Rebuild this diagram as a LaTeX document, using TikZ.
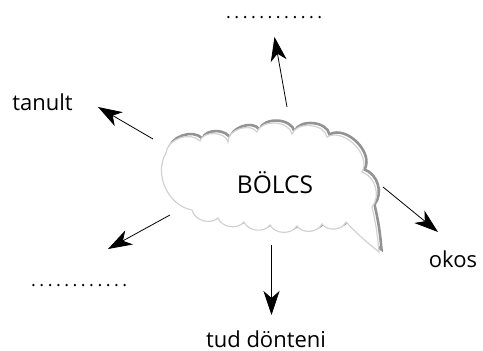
\documentclass[tikz,border=0pt]{standalone}
\usepackage{fontspec}
\setmainfont{Open Sans}
\usetikzlibrary{arrows.meta}
\tikzset{
  cloudshape/.pic={
    \path[pic actions]
      (166,153) to[bend left=65] (200,141)
      to[bend left=75] (228,142)
      to[bend left=75] (257,132)
      to[bend left=75] (292,134)
      to[bend left=75] (327,137)
      to[bend left=75] (362,172)
      to[bend left=55] (372,207)
      to[bend left=4] (379,252)
      to[bend left=4] (346,222)
      to[bend left=60] (322,224)
      to[bend left=60] (297,226)
      to[bend left=60] (270,225)
      to[bend left=60] (244,222)
      to[bend left=60] (218,218)
      to[bend left=60] (192,210)
      to[bend left=55] cycle;
  }
}
\begin{document}
\begin{tikzpicture}[x=1pt,y=-1pt,
  lbl/.style={font=\fontsize{22}{26}\selectfont, text=black, inner sep=0pt, anchor=base},
  dotrow/.style={font=\fontsize{18}{22}\selectfont, text=black, inner sep=0pt, anchor=base west},
  arr/.style={draw=black, line width=0.8pt, -{Stealth[length=24pt,width=16pt,inset=7pt]}}]
\useasboundingbox (0,0) rectangle (483,351);
% cloud
\pic[draw=gray!85, line width=2.6pt] at (2.5,-2.5) {cloudshape};
\pic[draw=gray!35, fill=white, line width=1.2pt] at (0,0) {cloudshape};
\node[lbl, font=\fontsize{24.5}{28}\selectfont] (bolcs) at (275,193) {BÖLCS};
% labels
\node[lbl] (tanult) at (42.5,110) {tanult};
\node[lbl] (okos) at (453,267) {okos};
\node[lbl] (dont) at (266,347) {tud dönteni};
\node[dotrow] (dtop) at (226,18) {\hbox to 96pt{.\hfil.\hfil.\hfil.\hfil.\hfil.\hfil.\hfil.\hfil.\hfil.\hfil.\hfil.}};
\node[dotrow] (dbot) at (31,286) {\hbox to 96pt{.\hfil.\hfil.\hfil.\hfil.\hfil.\hfil.\hfil.\hfil.\hfil.\hfil.\hfil.}};
% arrow ends
\coordinate (upS) at (287,107);
\coordinate (upE) at (274.5,37);
\coordinate (tlS) at (153,139);
\coordinate (tlE) at (98,107);
\coordinate (blS) at (170,215);
\coordinate (blE) at (108,249);
\coordinate (dnS) at (271.5,245);
\coordinate (dnE) at (271.5,315);
\coordinate (okS) at (383,187);
\coordinate (okE) at (438,232);
\draw[arr] (upS) -- (upE);
\draw[arr] (tlS) -- (tlE);
\draw[arr] (blS) -- (blE);
\draw[arr] (dnS) -- (dnE);
\draw[arr] (okS) -- (okE);
\end{tikzpicture}
\end{document}
